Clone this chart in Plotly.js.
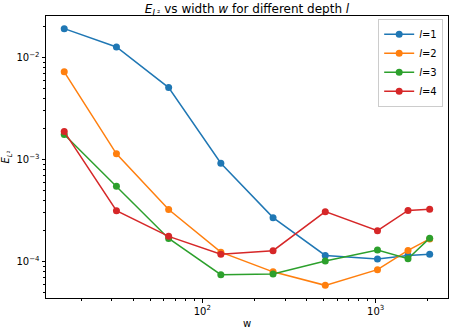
<!DOCTYPE html>
<html>
<head>
<meta charset="utf-8">
<script src="https://cdn.plot.ly/plotly-3.0.1.min.js"></script>
<style>
  body { margin: 0; }
  #grafico { width: 449px; height: 331px; }
</style>
</head>
<body>
<div id="grafico"></div>
<script>
const anchos = [16, 32, 64, 128, 256, 512, 1024, 1536, 2048];
const errorL1 = [0.0192, 0.0127, 0.00508, 0.00092, 0.00027, 0.000115, 0.000106, 0.000115, 0.000118];
const errorL2 = [0.00724, 0.00114, 0.000324, 0.000124, 0.0000795, 0.0000586, 0.0000835, 0.000129, 0.000167];
const errorL3 = [0.00176, 0.000547, 0.000169, 0.0000745, 0.0000757, 0.0001016, 0.00013, 0.000107, 0.00017];
const errorL4 = [0.00188, 0.000316, 0.000177, 0.000118, 0.000128, 0.000309, 0.000201, 0.000318, 0.000326];
const nombres = ['<i>l</i>=1', '<i>l</i>=2', '<i>l</i>=3', '<i>l</i>=4'];
const colores = ['#1f77b4', '#ff7f0e', '#2ca02c', '#d62728'];

const ticksX = [100, 1000];
const textoX = ['10<sup>2</sup>', '10<sup>3</sup>'];
const menoresX = [20, 30, 40, 50, 60, 70, 80, 90, 200, 300, 400, 500, 600, 700, 800, 900, 2000];
const ticksY = [1e-4, 1e-3, 1e-2];
const textoY = ['10<sup>−4</sup>', '10<sup>−3</sup>', '10<sup>−2</sup>'];
const menoresY = [5e-5, 6e-5, 7e-5, 8e-5, 9e-5, 2e-4, 3e-4, 4e-4, 5e-4, 6e-4, 7e-4, 8e-4, 9e-4,
  2e-3, 3e-3, 4e-3, 5e-3, 6e-3, 7e-3, 8e-3, 9e-3, 2e-2];

function crearTraza(valores, i) {
  return {
    x: anchos,
    y: valores,
    type: 'scatter',
    mode: 'lines+markers',
    name: nombres[i],
    line: { color: colores[i], width: 1.5 },
    marker: { color: colores[i], size: 7 }
  };
}

function dibujarGrafico() {
  const trazas = [errorL1, errorL2, errorL3, errorL4].map(crearTraza);

  const ejeComun = {
    type: 'log',
    showgrid: false,
    zeroline: false,
    showline: true,
    mirror: true,
    linecolor: '#000',
    linewidth: 1,
    ticks: 'outside',
    ticklen: 3.5,
    tickcolor: '#000',
    tickfont: { size: 10, color: '#000' },
    tickmode: 'array'
  };

  const diseño = {
    width: 449,
    height: 331,
    margin: { l: 46, r: 1, t: 16, b: 33 },
    paper_bgcolor: '#fff',
    plot_bgcolor: '#fff',
    font: { family: 'DejaVu Sans', color: '#000' },
    showlegend: true,
    title: {
      text: '<i>E</i><sub><i>L</i>²</sub> vs width <i>w</i> for different depth <i>l</i>',
      font: { size: 12 },
      x: 0.5,
      xref: 'paper',
      y: 1,
      yref: 'paper',
      yanchor: 'bottom',
      pad: { b: 3 }
    },
    xaxis: Object.assign({}, ejeComun, {
      range: [Math.log10(12.56), Math.log10(2612)],
      tickvals: ticksX,
      ticktext: textoX,
      minor: { tickvals: menoresX, ticks: 'outside', ticklen: 2, tickcolor: '#000', showgrid: false },
      title: { text: 'w', font: { size: 10 }, standoff: 4 }
    }),
    yaxis: Object.assign({}, ejeComun, {
      range: [-4.356, -1.593],
      tickvals: ticksY,
      ticktext: textoY,
      minor: { tickvals: menoresY, ticks: 'outside', ticklen: 2, tickcolor: '#000', showgrid: false },
      title: { text: '<i>E</i><sub><i>L</i>²</sub>', font: { size: 10 }, standoff: 4 }
    }),
    legend: {
      x: 0.988,
      xanchor: 'right',
      y: 0.99,
      yanchor: 'top',
      bordercolor: '#cccccc',
      borderwidth: 1,
      bgcolor: 'rgba(255,255,255,0.8)',
      font: { size: 10 },
      itemwidth: 30,
      tracegroupgap: 0
    }
  };

  Plotly.newPlot('grafico', trazas, diseño, { displayModeBar: false, staticPlot: true });
}

dibujarGrafico();
</script>
</body>
</html>
